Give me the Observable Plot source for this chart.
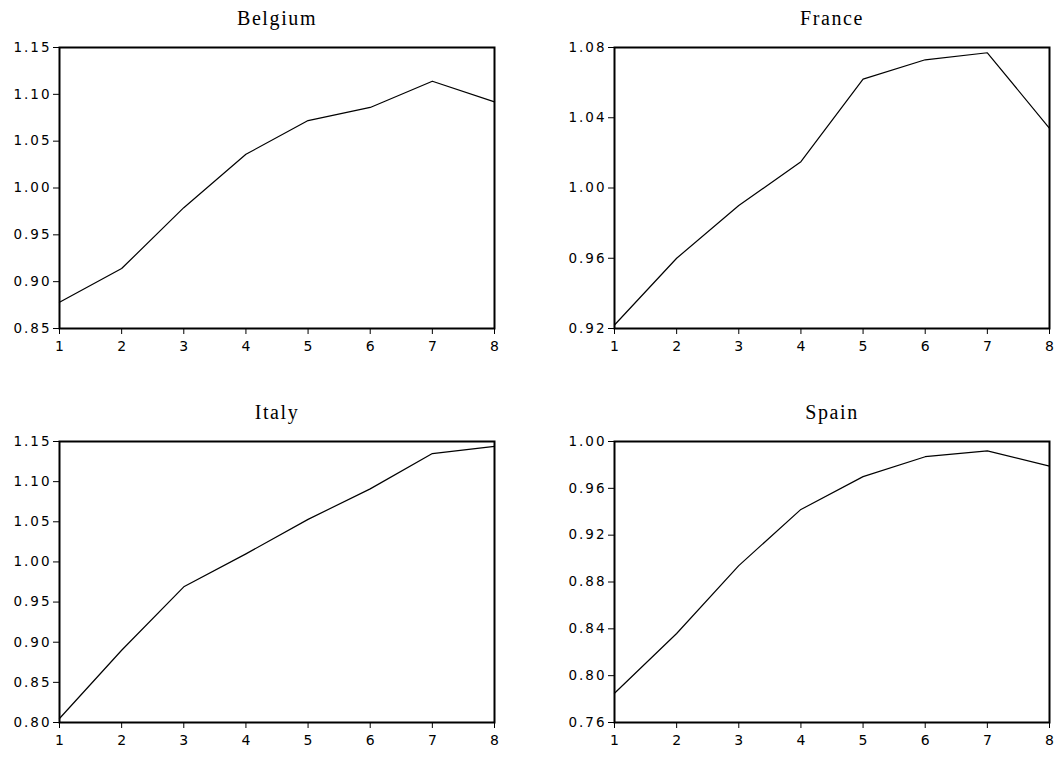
<!DOCTYPE html>
<html>
<head>
<meta charset="utf-8">
<script src="https://cdn.jsdelivr.net/npm/d3@7"></script>
<script src="https://cdn.jsdelivr.net/npm/@observablehq/plot@0.6"></script>
<style>
  html, body { margin: 0; padding: 0; background: #ffffff; }
  #root { position: relative; width: 1055px; height: 767px; background: #ffffff; overflow: hidden; }
  #root svg { position: absolute; background: #ffffff; }
  #root g[aria-label="y-axis tick label"], #root g[aria-label="y-axis tick label"] text {
    font-family: "DejaVu Sans", Arial, sans-serif !important; font-size: 13.5px !important; letter-spacing: 2px; }
  #root g[aria-label="x-axis tick label"], #root g[aria-label="x-axis tick label"] text {
    font-family: "DejaVu Sans", Arial, sans-serif !important; font-size: 14px !important; }
  #root g[aria-label="text"], #root g[aria-label="text"] text {
    font-family: "Liberation Serif", "Times New Roman", serif !important; font-size: 20px !important; letter-spacing: 1.6px; }
</style>
</head>
<body>
<div id="root"></div>
<script>
// ---- data ----
const periods = [1, 2, 3, 4, 5, 6, 7, 8];

const belgium = [0.878, 0.914, 0.979, 1.036, 1.072, 1.086, 1.114, 1.092];
const france  = [0.922, 0.960, 0.990, 1.015, 1.062, 1.073, 1.077, 1.034];
const italy   = [0.805, 0.890, 0.969, 1.010, 1.053, 1.091, 1.135, 1.144];
const spain   = [0.785, 0.836, 0.894, 0.942, 0.970, 0.987, 0.992, 0.979];

const belgiumTicks = [0.85, 0.90, 0.95, 1.00, 1.05, 1.10, 1.15];
const franceTicks  = [0.92, 0.96, 1.00, 1.04, 1.08];
const italyTicks   = [0.80, 0.85, 0.90, 0.95, 1.00, 1.05, 1.10, 1.15];
const spainTicks   = [0.76, 0.80, 0.84, 0.88, 0.92, 0.96, 1.00];

const panels = [
  {title: "Belgium", values: belgium, ticks: belgiumTicks, left: 0,   top: 0,   width: 527, marginRight: 33},
  {title: "France",  values: france,  ticks: franceTicks,  left: 555, top: 0,   width: 500, marginRight: 6},
  {title: "Italy",   values: italy,   ticks: italyTicks,   left: 0,   top: 394, width: 527, marginRight: 33},
  {title: "Spain",   values: spain,   ticks: spainTicks,   left: 555, top: 394, width: 500, marginRight: 6}
];

const root = document.getElementById("root");
const fmt = d3.format(".2f");

for (const p of panels) {
  const rows = periods.map((t, i) => ({t, v: p.values[i]}));
  const yDomain = [p.ticks[0], p.ticks[p.ticks.length - 1]];
  const svg = Plot.plot({
    width: p.width,
    height: 358,
    marginTop: 47,
    marginBottom: 30,
    marginLeft: 59,
    marginRight: p.marginRight,
    style: {fontFamily: "DejaVu Sans, Arial, sans-serif", fontSize: "13px", color: "#000", background: "#fff", overflow: "visible"},
    x: {domain: [1, 8], label: null},
    y: {domain: yDomain, label: null},
    marks: [
      Plot.axisX({ticks: periods, tickFormat: d => String(d), tickSize: 6, tickPadding: 6.5, stroke: "#000", fill: "#000", fontSize: 14}),
      Plot.axisY({ticks: p.ticks, tickFormat: fmt, tickSize: 6, tickPadding: 2, stroke: "#000", fill: "#000", fontSize: 13.5}),
      Plot.line(rows, {x: "t", y: "v", stroke: "#000", strokeWidth: 1.2}),
      Plot.frame({stroke: "#000", strokeWidth: 2}),
      Plot.text([p.title], {frameAnchor: "top", dy: -29, lineAnchor: "middle", text: d => d, fontFamily: "Liberation Serif, Times New Roman, serif", fontSize: 20, fill: "#000"})
    ]
  });
  svg.style.left = p.left + "px";
  svg.style.top = p.top + "px";
  root.appendChild(svg);
}
</script>
</body>
</html>
